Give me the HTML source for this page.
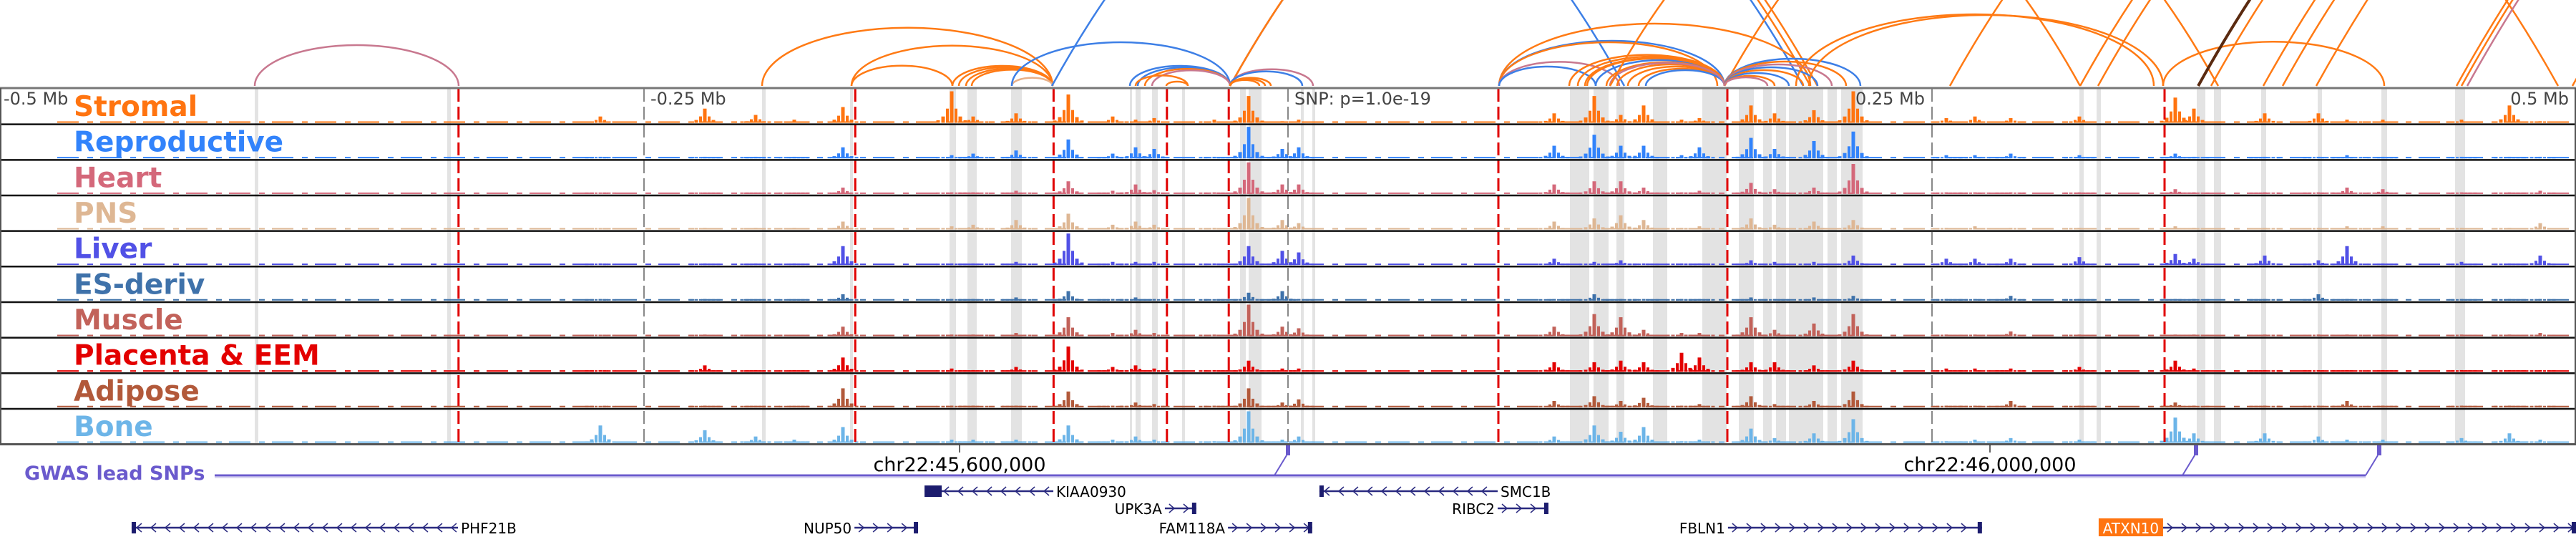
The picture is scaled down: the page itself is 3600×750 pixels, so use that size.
<!DOCTYPE html>
<html><head><meta charset="utf-8"><style>
html,body{margin:0;padding:0;background:#fff;}
svg{display:block;}
text{font-family:"DejaVu Sans","Liberation Sans",sans-serif;}
</style></head><body>
<svg id="chart" xmlns="http://www.w3.org/2000/svg" width="3600" height="750" viewBox="0 0 3600 750">
<g id="arcs"></g>
<g id="bands"></g>
<g id="tracks"></g>
<g id="vlines"></g>
<g id="labels"></g>
<g id="axis"></g>
<g id="gwas"></g>
<g id="genes"></g>
</svg>
<script>
// ---- data ----
const tissues = ["Stromal","Reproductive","Heart","PNS","Liver","ES-deriv","Muscle","Placenta & EEM","Adipose","Bone"];
const tissueColors = ["#ff7410","#3283fb","#d4687a","#deb794","#5151e6","#3f72aa","#c2625a","#e30000","#b2593a","#6db5e8"];
const tickKb = [-500,-250,0,250,500];
const tickLabels = ["-0.5 Mb","-0.25 Mb","SNP: p=1.0e-19","0.25 Mb","0.5 Mb"];
function troundKb(px){return (px-1800)/3.6;}
const redLinesKb = [-322,-168,-91,-47,-23,troundKb(2094),troundKb(2414),troundKb(3025)];
const bandStartKb = [356,625,1065,1188,1327,1352,1413,1579,1587,1610,1652,1733,1745,1818,1834,2194,2227,2259,2310,2379,2430,2464,2482,2500,2554,2573,2906,2930,3070,3094,3160,3239,3328,3431].map(troundKb);
const bandEndKb   = [361,630,1070,1192,1336,1365,1428,1582,1594,1618,1656,1741,1763,1822,1838,2221,2248,2270,2330,2413,2451,2476,2496,2548,2567,2603,2912,2936,3082,3104,3167,3245,3336,3445].map(troundKb);
const peakKb = [839,985,1056,1110,1178,1330,1360,1420,1493,1555,1587,1613,1697,1745,1792,1815,2172,2228,2265,2297,2350,2375,2447,2480,2535,2590,2720,2760,2810,2906,3040,3066,3165,3240,3280,3330,3440,3507,3550].map(troundKb);
const stromal  = [.2,.45,.25,.1,.5,1.0,.2,.3,.9,.2,.1,.15,.1,.85,.05,.1,.3,.85,.25,.55,.1,.15,.55,.3,.4,1.0,.15,.2,.15,.2,.8,.45,.3,.3,.1,.1,.1,.55,.05];
const reproductive = [.05,.05,.05,.05,.35,.1,.15,.25,.6,.15,.35,.3,.05,1.0,.3,.35,.4,.75,.4,.4,.1,.35,.65,.3,.55,.85,.1,.1,.15,.1,.15,.05,.05,.05,.1,.05,.05,.05,.05];
const heart    = [.02,.03,.02,.03,.2,.05,.05,.1,.4,.1,.3,.12,.05,1.0,.3,.3,.3,.4,.4,.2,.05,.1,.35,.15,.2,.95,.05,.05,.05,.05,.15,.05,.05,.05,.2,.15,.05,.05,.1];
const pns      = [.02,.05,.05,.05,.25,.1,.15,.3,.5,.15,.25,.15,.05,1.0,.3,.2,.25,.35,.45,.3,.05,.1,.35,.15,.25,.3,.05,.1,.05,.05,.1,.05,.05,.05,.1,.1,.05,.05,.2];
const liver    = [.05,.05,.05,.05,.6,.05,.05,.1,1.0,.1,.1,.1,.05,.6,.45,.4,.2,.1,.15,.05,.05,.05,.15,.1,.1,.3,.2,.2,.2,.25,.35,.2,.3,.15,.6,.05,.1,.05,.3];
const esDeriv  = [.05,.05,.03,.02,.2,.05,.05,.1,.3,.05,.1,.05,.02,.25,.3,.05,.05,.2,.05,.05,.05,.05,.1,.05,.1,.15,.05,.05,.15,.05,.05,.05,.05,.2,.05,.05,.05,.05,.05];
const muscle   = [.02,.05,.03,.03,.3,.05,.05,.1,.6,.1,.2,.1,.05,1.0,.3,.25,.3,.7,.6,.2,.1,.1,.6,.2,.4,.7,.05,.05,.15,.05,.05,.05,.05,.05,.05,.05,.05,.05,.1];
const placenta = [.05,.2,.05,.05,.45,.1,.05,.15,.8,.15,.2,.1,.05,.35,.1,.1,.3,.3,.35,.3,.6,.45,.3,.3,.2,.35,.1,.1,.1,.15,.35,.1,.05,.05,.05,.05,.05,.05,.05];
const adipose  = [.02,.05,.03,.02,.6,.05,.05,.05,.5,.05,.15,.1,.05,.6,.15,.25,.2,.35,.2,.3,.05,.1,.35,.1,.2,.5,.05,.05,.2,.05,.15,.05,.05,.05,.2,.05,.05,.05,.05];
const bone     = [.55,.4,.2,.1,.5,.1,.1,.1,.55,.1,.2,.1,.05,1.0,.1,.2,.2,.55,.35,.5,.05,.1,.45,.15,.3,.75,.05,.1,.15,.1,.8,.3,.3,.2,.1,.1,.15,.3,.1];
const trackValues = [stromal,reproductive,heart,pns,liver,esDeriv,muscle,placenta,adipose,bone];
// arcs: start/end (kb from SNP), colour category
const arcStartKb = [356,1065,1190,1190,1331,1340,1350,1358,1414,1414,1470,1719,1719,1719,1579,1590,1600,1610,1587,1630,1719,1719,1719,1719,1719,2095,2095,2095,2095,2095,2193,2205,2218,2230,2245,2260,2275,2290,2300,2215,2250,2410,2410,2410,2410,2410,2410,2410,2410,2410,2250,2528,2510,2725,2907,2932,3023,3072,3090,3163,3190,3237,3433,3440,3448,3595].map(troundKb);
const arcEndKb   = [641,1471,1471,1331,1471,1471,1471,1471,1471,1719,2270,2520,2530,2540,1719,1719,1719,1719,1660,1660,1835,1820,1760,1768,1776,2530,2410,2400,2263,2230,2410,2410,2410,2410,2410,2410,2410,2410,2410,2410,2410,3100,2600,2580,2560,2540,2520,2500,2480,2470,2907,3023,3010,3575,3807,3830,3332,4072,4090,4163,4190,4337,4533,4540,4548,4695].map(troundKb);
const arcKind    = ["heart","orange","orange","orange","orange","orange","orange","orange","peach","blue","blue","blue","orange","orange","blue","blue","orange","heart","orange","orange","heart","blue","orange","orange","orange","orange","blue","orange","heart","blue","orange","orange","orange","blue","orange","orange","orange","orange","blue","orange","heart","orange","blue","orange","heart","blue","orange","blue","orange","heart","orange","orange","orange","orange","orange","orange","orange","dark","orange","orange","orange","orange","orange","orange","heart","orange"];
const geneNames  = ["PHF21B","NUP50","KIAA0930","UPK3A","FAM118A","SMC1B","RIBC2","FBLN1","ATXN10"];
const geneStartBp= [45278600,45559200,45586400,45679700,45704200,45739700,45808900,45898300,46067200];
const geneEndBp  = [45405300,45583900,45636400,45691900,45736900,45808900,45828600,45996900,46227500];
// ---- scales ----
const X = kb => 1800 + kb*3.6;
const Xbp = bp => 1341 + (bp-45600000)/1000*3.6;
const rowTop = i => 124 + i*49.66;
const NS="http://www.w3.org/2000/svg";
function mk(tag, attrs, parent){const e=document.createElementNS(NS,tag);for(const k in attrs)e.setAttribute(k,attrs[k]);parent.appendChild(e);return e;}
const arcColors = {orange:"#ff7a14",blue:"#3d7fe6",heart:"#c8788f",peach:"#e8b088",dark:"#5a2a10"};

// arcs
const gArcs=document.getElementById('arcs');
for(let i=0;i<arcStartKb.length;i++){
  const x1=X(arcStartKb[i]), x2=X(arcEndKb[i]); const L=x2-x1;
  let d;
  if(L>600){ d=`M${x1},120 Q${(x1+x2)/2},${120-0.9*L} ${x2},120`; }
  else { d=`M${x1},120 A${L/2},${0.2*L} 0 0 1 ${x2},120`; }
  const p=mk('path',{d:d,fill:'none',stroke:arcColors[arcKind[i]],'stroke-width':arcKind[i]==='dark'?4:2.5},gArcs);
  
  
}
mk('rect',{x:0,y:121,width:3600,height:629,fill:'#fff'},document.getElementById('bands'));
// bands
const gB=document.getElementById('bands');
for(let i=0;i<bandStartKb.length;i++){
  const r=mk('rect',{x:X(bandStartKb[i]),y:124,width:Math.max(3,X(bandEndKb[i])-X(bandStartKb[i])),height:496,fill:'#e3e3e3'},gB);
  
  
}
// tracks
const gT=document.getElementById('tracks');
const offs=[[0,1,5],[-6,.45,4],[6,.45,4],[-12,.2,5],[12,.2,5],[-19,.08,5],[19,.08,5]];
tissues.forEach((t,ti)=>{
  const base=rowTop(ti)+47.5, col=tissueColors[ti];
  const g=mk('g',{},gT);
  
  
  mk('line',{x1:80,y1:base-1,x2:3600,y2:base-1,stroke:col,'stroke-width':2,'stroke-dasharray':'30 12 8 10'},g);
  trackValues[ti].forEach((v,pi)=>{
    const cx=X(peakKb[pi]);
    offs.forEach(o=>{
      const h=Math.max(2,v*44*o[1]);
      const r=mk('rect',{x:cx+o[0]-o[2]/2,y:base-h,width:o[2],height:h,fill:col},g);
      
      
    });
  });
});
// vertical lines + row borders
const gV=document.getElementById('vlines');
tickKb.slice(1,4).forEach(k=>{mk('line',{x1:X(k),y1:124,x2:X(k),y2:620,stroke:'#888','stroke-width':2,'stroke-dasharray':'18 7'},gV);});
redLinesKb.forEach(k=>{
  const l=mk('line',{x1:X(k),y1:124,x2:X(k),y2:620,stroke:'#e00000','stroke-width':3,'stroke-dasharray':'18 7'},gV);
  
  
});
for(let i=1;i<10;i++) mk('line',{x1:0,y1:rowTop(i),x2:3600,y2:rowTop(i),stroke:'#111','stroke-width':2.5},gV);
mk('line',{x1:0,y1:123,x2:3600,y2:123,stroke:'#777','stroke-width':3},gV);
mk('line',{x1:0,y1:620.5,x2:3600,y2:620.5,stroke:'#555','stroke-width':3},gV);
mk('line',{x1:1,y1:123,x2:1,y2:621,stroke:'#555','stroke-width':2},gV);
mk('line',{x1:3599,y1:123,x2:3599,y2:621,stroke:'#555','stroke-width':2},gV);
// labels
const gL=document.getElementById('labels');
tissues.forEach((t,ti)=>{
  const tx=mk('text',{x:103,y:rowTop(ti)+38,fill:tissueColors[ti],'font-size':39,'font-weight':'bold'},gL);
  tx.textContent=t;
  
  
});
// axis labels
const gA=document.getElementById('axis');
tickKb.forEach((k,i)=>{
  const x = i===0?5:(k<=0?X(k)+9:X(k)-10);
  const tx=mk('text',{x:x,y:146,fill:'#444','font-size':24,'text-anchor':k>0?'end':'start'},gA);
  tx.textContent=tickLabels[i];
  
  
});
const chrPos=[45600000,46000000], chrLab=["chr22:45,600,000","chr22:46,000,000"];
chrPos.forEach((bp,i)=>{
  mk('line',{x1:Xbp(bp),y1:621,x2:Xbp(bp),y2:632,stroke:'#333','stroke-width':1.5},gA);
  const tx=mk('text',{x:Xbp(bp),y:658,fill:'#000','font-size':27,'text-anchor':'middle'},gA);
  tx.textContent=chrLab[i];
  
  
});
// gwas
const gG=document.getElementById('gwas');
const gwasSnpKb=[0,troundKb(3069),troundKb(3325)];
const gl=mk('text',{x:34,y:670,fill:'#6a5acd','font-size':27,'font-weight':'bold'},gG);
gl.textContent='GWAS lead SNPs';


const lastX=X(gwasSnpKb[2]);
mk('line',{x1:300,y1:664,x2:lastX-19,y2:664,stroke:'#6a5acd','stroke-width':3},gG);
mk('line',{x1:300,y1:667,x2:lastX-19,y2:667,stroke:'#d8d4f0','stroke-width':2},gG);
gwasSnpKb.forEach(k=>{
  const x=X(k);
  mk('line',{x1:x-19,y1:664,x2:x-2,y2:636,stroke:'#6a5acd','stroke-width':2},gG);
  const r=mk('rect',{x:x-3,y:622,width:6,height:14,fill:'#6a5acd'},gG);
  
  
});
// genes
const gN=document.getElementById('genes');
const geneRow=[737,737,686,710,737,686,710,737,737];
const geneDir=[-1,1,-1,1,1,-1,1,1,1];
const labelSide=["right","left","right","left","left","right","left","left","left"];
geneNames.forEach((n,i)=>{
  const x1=Xbp(geneStartBp[i]), x2=Xbp(geneEndBp[i]), y=geneRow[i];
  const g=mk('g',{},gN);
  
  
  mk('line',{x1:x1,y1:y,x2:x2,y2:y,stroke:'#2a2a80','stroke-width':2.5},g);
  for(let x=x1+10;x<x2-6;x+=20){
    const d=geneDir[i]<0?`M${x+4},${y-6} L${x-3},${y} L${x+4},${y+6}`:`M${x-4},${y-6} L${x+3},${y} L${x-4},${y+6}`;
    mk('path',{d:d,fill:'none',stroke:'#2a2a80','stroke-width':1.5},g);
  }
  if(geneDir[i]<0) mk('rect',{x:x1,y:y-8,width:n==='KIAA0930'?24:6,height:16,fill:'#1c1c6e'},g);
  else mk('rect',{x:x2-6,y:y-8,width:6,height:16,fill:'#1c1c6e'},g);
  if(n==='ATXN10'){
    mk('rect',{x:x1-90,y:y-13,width:90,height:25,fill:'#ff7410'},g);
    const t=mk('text',{x:x1-45,y:y+8,fill:'#fff','font-size':20,'text-anchor':'middle'},g); t.textContent=n;
  } else {
    const t=mk('text',{x:labelSide[i]==='right'?x2+4:x1-4,y:y+8,fill:'#000','font-size':20,'text-anchor':labelSide[i]==='right'?'start':'end'},g); t.textContent=n;
  }
});
</script>
</body></html>
